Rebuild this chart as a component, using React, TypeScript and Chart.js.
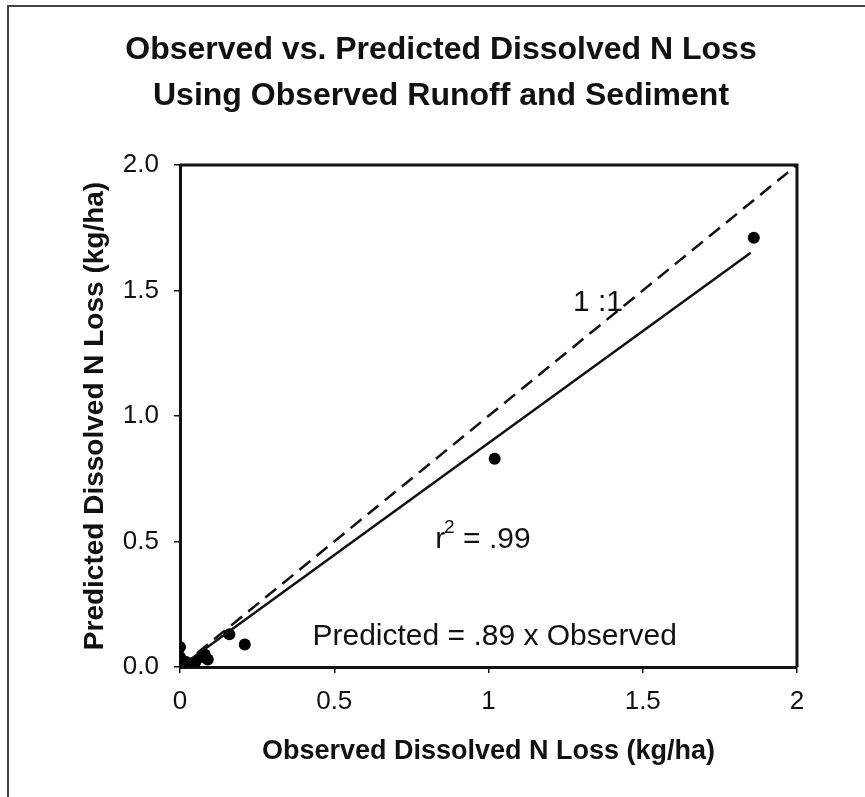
import React, { useEffect, useRef } from 'react';
import { Chart, registerables } from 'chart.js';

Chart.register(...registerables);

// ---- data ----
const observed = [0, 0, 0, 0.01, 0.02, 0.03, 0.05, 0.07, 0.08, 0.09, 0.16, 0.21, 1.02, 1.86];
const predicted = [0.08, 0.04, 0.01, 0.0, 0.02, 0.01, 0.02, 0.04, 0.05, 0.03, 0.13, 0.09, 0.83, 1.71];
const fitX = [0, 1.85];
const fitY = [0, 1.65];
const oneToOneX = [0, 2];
const oneToOneY = [0, 2];
const xTickLabels = ['0', '0.5', '1', '1.5', '2'];
const yTickLabels = ['0.0', '0.5', '1.0', '1.5', '2.0'];
const titleLines = ['Observed vs. Predicted Dissolved N Loss', 'Using Observed Runoff and Sediment'];
const xTitle = 'Observed Dissolved N Loss (kg/ha)';
const yTitle = 'Predicted Dissolved N Loss (kg/ha)';
const oneToOneLabel = '1 :1';
const r2Label = ['r', '2', ' = .99'];
const equationLabel = 'Predicted = .89 x Observed';

const FONT = '"Liberation Sans", Arial, Helvetica, sans-serif';
const INK = '#111';

export default function App() {
  const ref = useRef<HTMLCanvasElement>(null);

  useEffect(() => {
    const canvas = ref.current;
    if (!canvas) return;

    const overlay = {
      id: 'overlay',
      afterDraw(chart: any) {
        const ctx = chart.ctx;
        const { left, right, top, bottom } = chart.chartArea;
        const xs = chart.scales.x;
        const ys = chart.scales.y;
        ctx.save();
        // plot frame (top and right)
        ctx.strokeStyle = INK;
        ctx.lineWidth = 3;
        ctx.beginPath();
        ctx.moveTo(left, top);
        ctx.lineTo(right, top);
        ctx.lineTo(right, bottom);
        ctx.stroke();

        ctx.fillStyle = INK;
        // title
        ctx.font = `bold 32px ${FONT}`;
        ctx.textAlign = 'center';
        ctx.textBaseline = 'middle';
        ctx.fillText(titleLines[0], 441, 50);
        ctx.fillText(titleLines[1], 441, 96);

        // annotations
        ctx.font = `30px ${FONT}`;
        ctx.textAlign = 'center';
        ctx.fillText(oneToOneLabel, xs.getPixelForValue(1.355), ys.getPixelForValue(1.45));
        ctx.fillText(equationLabel, xs.getPixelForValue(1.02), ys.getPixelForValue(0.12));

        // r^2
        ctx.textAlign = 'left';
        let x = xs.getPixelForValue(0.827);
        const y = ys.getPixelForValue(0.506);
        ctx.fillText(r2Label[0], x, y);
        x += ctx.measureText(r2Label[0]).width;
        ctx.font = `19px ${FONT}`;
        ctx.fillText(r2Label[1], x - 1, y - 12);
        x += ctx.measureText(r2Label[1]).width - 1;
        ctx.font = `30px ${FONT}`;
        ctx.fillText(r2Label[2], x, y);
        ctx.restore();
      },
    };

    const chart = new Chart(canvas, {
      type: 'scatter',
      data: {
        datasets: [
          {
            label: '1:1',
            data: oneToOneX.map((v, i) => ({ x: v, y: oneToOneY[i] })),
            showLine: true,
            borderColor: INK,
            borderWidth: 2.5,
            borderDash: [14, 8],
            pointRadius: 0,
          },
          {
            label: 'Fit',
            data: fitX.map((v, i) => ({ x: v, y: fitY[i] })),
            showLine: true,
            borderColor: INK,
            borderWidth: 2.5,
            pointRadius: 0,
          },
          {
            label: 'Observed vs Predicted',
            data: observed.map((v, i) => ({ x: v, y: predicted[i] })),
            backgroundColor: '#000',
            borderColor: '#000',
            borderWidth: 0,
            pointRadius: 6,
          },
        ],
      },
      options: {
        responsive: false,
        animation: false,
        events: [],
        layout: { padding: { left: 0, top: 165, right: 68, bottom: 0 } },
        plugins: {
          legend: { display: false },
          tooltip: { enabled: false },
          title: { display: false },
        },
        scales: {
          x: {
            type: 'linear',
            min: 0,
            max: 2,
            afterFit: (s: any) => { s.height = 130; },
            afterBuildTicks: (s: any) => {
              s.ticks = xTickLabels.map((_, i) => ({ value: i * 0.5 }));
            },
            ticks: {
              callback: (_v: any, i: number) => xTickLabels[i],
              color: INK,
              font: { family: FONT, size: 26 },
              padding: 13,
              maxRotation: 0,
            },
            grid: { drawOnChartArea: false, drawTicks: true, tickLength: 6, color: INK, lineWidth: 1.5 },
            border: { display: true, color: INK, width: 3 },
            title: {
              display: true,
              text: xTitle,
              color: INK,
              font: { family: FONT, size: 27, weight: 'bold' },
              padding: { top: 0, bottom: 29 },
            },
          },
          y: {
            type: 'linear',
            min: 0,
            max: 2,
            afterFit: (s: any) => { s.width = 180; },
            afterBuildTicks: (s: any) => {
              s.ticks = yTickLabels.map((_, i) => ({ value: i * 0.5 }));
            },
            ticks: {
              callback: (_v: any, i: number) => yTickLabels[i],
              color: INK,
              font: { family: FONT, size: 26 },
              padding: 15,
            },
            grid: { drawOnChartArea: false, drawTicks: true, tickLength: 6, color: INK, lineWidth: 1.5 },
            border: { display: true, color: INK, width: 3 },
            title: {
              display: true,
              text: yTitle,
              color: INK,
              font: { family: FONT, size: 28, weight: 'bold' },
              padding: { top: 78, bottom: 0 },
            },
          },
        },
      },
      plugins: [overlay],
    } as any);

    return () => chart.destroy();
  }, []);

  return (
    <div
      style={{
        position: 'fixed',
        left: 0,
        top: 0,
        width: 865,
        height: 797,
        background: '#fff',
      }}
    >
      <div
        style={{
          position: 'absolute',
          left: 7,
          top: 5,
          right: -10,
          bottom: -10,
          borderLeft: '2px solid #444',
          borderTop: '2px solid #444',
        }}
      />
      <canvas ref={ref} width={865} height={797} style={{ position: 'absolute', left: 0, top: 0, width: 865, height: 797 }} />
    </div>
  );
}
